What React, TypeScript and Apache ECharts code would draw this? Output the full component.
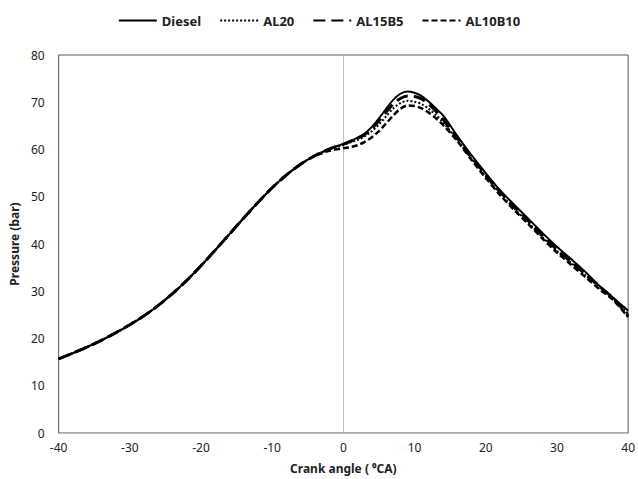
import React, { useEffect, useRef } from "react";
import * as echarts from "echarts";

const crankAngle = [
  -40, -38, -36, -34, -32, -30, -28, -26, -24, -22, -20, -18, -16, -14, -12, -10, -8, -6, -4, -2,
  0, 1, 2, 3, 4, 5, 6, 7, 8, 9, 10, 11, 12, 13, 14,
  16, 18, 20, 22, 24, 26, 28, 30, 32, 34, 36, 38, 40,
];

const commonCompression = [
  15.7, 16.9, 18.2, 19.6, 21.2, 22.9, 24.8, 27.0, 29.5, 32.3, 35.4, 38.7, 42.1, 45.5, 48.8, 51.9, 54.6, 56.9, 58.7,
];

const diesel = [
  ...commonCompression, 60.1,
  61.2, 61.8, 62.5, 63.4, 64.8, 66.6, 68.6, 70.5, 71.8, 72.3, 72.0, 71.3, 70.1, 68.7, 67.2,
  62.9, 58.8, 55.0, 51.4, 48.3, 45.3, 42.3, 39.4, 36.8, 34.1, 31.1, 28.5, 25.9,
];

const al20 = [
  ...commonCompression, 60.0,
  61.0, 61.5, 62.0, 62.8, 63.9, 65.3, 67.0, 68.7, 69.8, 70.3, 70.1, 69.6, 68.6, 67.3, 65.8,
  62.0, 58.0, 54.3, 50.7, 47.5, 44.5, 41.4, 38.5, 36.0, 33.4, 30.8, 28.2, 25.2,
];

const al15b5 = [
  ...commonCompression, 60.1,
  61.1, 61.7, 62.4, 63.2, 64.4, 66.1, 67.9, 69.6, 70.8, 71.3, 71.2, 70.7, 69.6, 68.1, 66.4,
  62.4, 58.4, 54.7, 51.1, 47.9, 44.9, 41.8, 38.8, 36.3, 33.6, 31.0, 28.4, 24.8,
];

const al10b10 = [
  ...commonCompression.slice(0, 18), 58.6, 59.7,
  60.3, 60.5, 60.9, 61.6, 62.6, 63.9, 65.5, 67.2, 68.6, 69.3, 69.2, 68.7, 67.8, 66.6, 65.2,
  61.8, 57.8, 54.0, 50.4, 47.2, 44.2, 41.1, 38.2, 35.6, 33.0, 30.4, 28.0, 24.5,
];

const seriesNames = ["Diesel", "AL20", "AL15B5", "AL10B10"];
const xTicks = [-40, 40, 10];
const yTicks = [0, 80, 10];

const FONT = "'Noto Sans', 'Open Sans', sans-serif";

export default function App() {
  const ref = useRef<HTMLDivElement>(null);
  useEffect(() => {
    if (!ref.current) return;
    const chart = echarts.init(ref.current, undefined, { renderer: "svg" });
    const toPairs = (ys: number[]) => crankAngle.map((x, i) => [x, ys[i]]);
    const styles = [
      { width: 2, type: "solid" as any },
      { width: 2, type: [2, 2] as any },
      { width: 3, type: [12, 6] as any },
      { width: 2.5, type: [6, 3] as any },
    ];
    const data = [diesel, al20, al15b5, al10b10];
    chart.setOption({
      animation: false,
      backgroundColor: "#ffffff",
      textStyle: { fontFamily: FONT },
      legend: {
        top: 9,
        left: "center",
        itemWidth: 38,
        itemHeight: 12,
        itemGap: 18,
        itemStyle: { color: "transparent", borderColor: "transparent", borderWidth: 0, opacity: 0 },
        textStyle: { fontFamily: FONT, fontSize: 13, fontWeight: "bold", color: "#222" },
        data: seriesNames,
      },
      grid: {
        left: 57,
        right: 5,
        top: 55,
        bottom: 46,
        show: true,
        borderColor: "#595959",
        borderWidth: 1,
        backgroundColor: "transparent",
      },
      xAxis: {
        type: "value",
        min: xTicks[0],
        max: xTicks[1],
        interval: xTicks[2],
        name: "Crank angle ( \u2070CA)",
        nameLocation: "middle",
        nameGap: 29,
        nameTextStyle: { fontFamily: FONT, fontSize: 12, fontWeight: "bold", color: "#222" },
        axisLine: { show: true, lineStyle: { color: "#bfbfbf", width: 1 } },
        axisTick: { show: false },
        splitLine: { show: false },
        axisLabel: { fontFamily: FONT, fontSize: 12, color: "#222", margin: 8 },
      },
      yAxis: {
        type: "value",
        min: yTicks[0],
        max: yTicks[1],
        interval: yTicks[2],
        name: "Pressure (bar)",
        nameLocation: "middle",
        nameGap: 28,
        nameTextStyle: { fontFamily: FONT, fontSize: 12, fontWeight: "bold", color: "#222" },
        axisLine: { show: false },
        axisTick: { show: false },
        splitLine: { show: false },
        axisLabel: { fontFamily: FONT, fontSize: 12, color: "#222", margin: 14 },
      },
      series: seriesNames.map((name, i) => ({
        name,
        type: "line",
        data: toPairs(data[i]),
        smooth: 0.3,
        symbol: "none",
        z: 10 - i,
        lineStyle: { color: "#000", width: styles[i].width, type: styles[i].type },
        itemStyle: { color: "#000" },
        markLine:
          i === 0
            ? {
                silent: true,
                symbol: "none",
                label: { show: false },
                lineStyle: { color: "#bfbfbf", type: "solid", width: 1 },
                data: [{ xAxis: 0 }],
                z: 1,
              }
            : undefined,
      })),
    });
    return () => chart.dispose();
  }, []);
  return <div ref={ref} style={{ width: 638, height: 479, position: "absolute", left: 0, top: 0 }} />;
}
